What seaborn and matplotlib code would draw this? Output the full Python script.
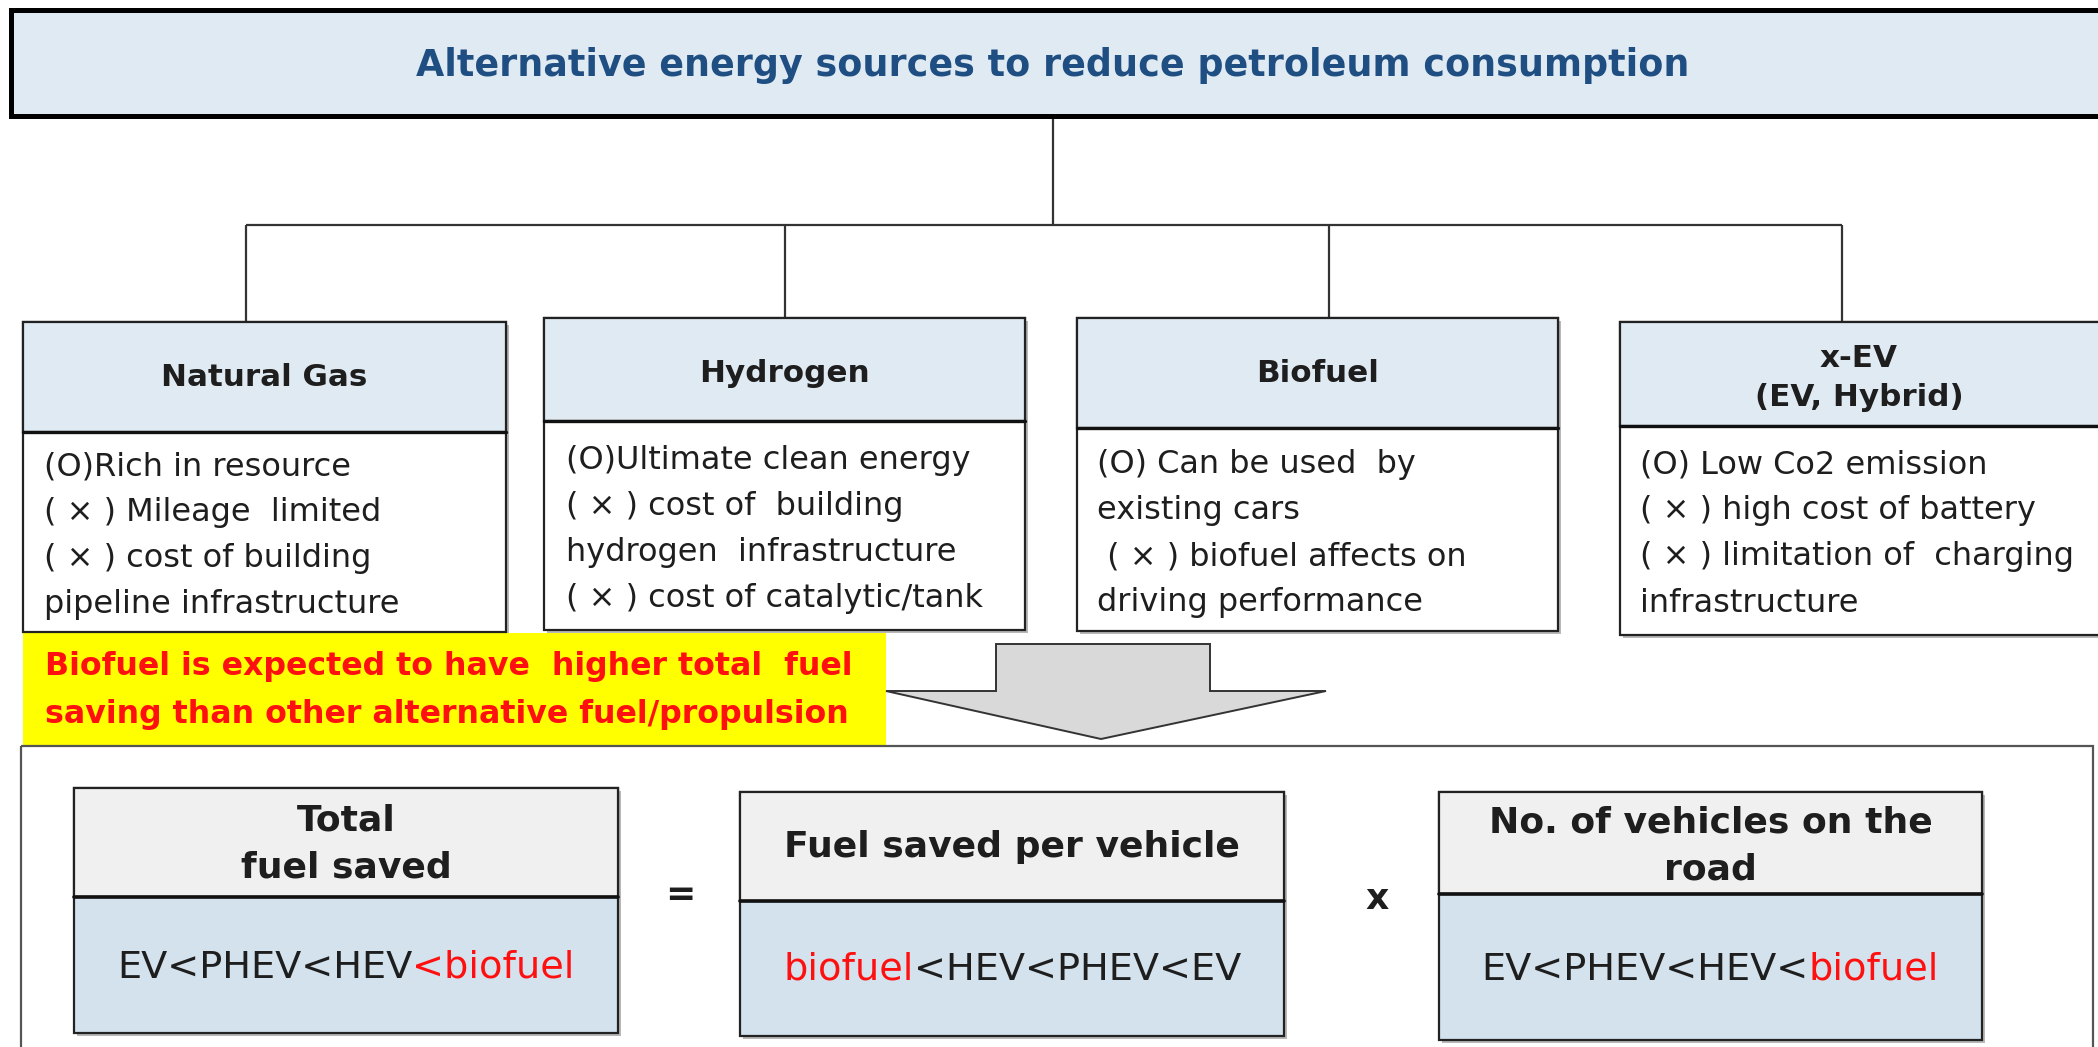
import matplotlib
matplotlib.use("Agg")
import matplotlib.pyplot as plt
import seaborn as sns
from matplotlib.patches import Rectangle, Polygon

sns.set_theme(style="white")
plt.rcParams['font.family'] = ['DejaVu Sans']

# ---------------- data (text content) ----------------
title = "Alternative energy sources to reduce petroleum consumption"
categories = ["Natural Gas", "Hydrogen", "Biofuel", "x-EV\n(EV, Hybrid)"]
natural_gas_notes = ["(O)Rich in resource", "( × ) Mileage  limited",
                     "( × ) cost of building", "pipeline infrastructure"]
hydrogen_notes = ["(O)Ultimate clean energy", "( × ) cost of  building",
                  "hydrogen  infrastructure", "( × ) cost of catalytic/tank"]
biofuel_notes = ["(O) Can be used  by", "existing cars",
                 " ( × ) biofuel affects on", "driving performance"]
xev_notes = ["(O) Low Co2 emission", "( × ) high cost of battery",
             "( × ) limitation of  charging", "infrastructure"]
conclusion_lines = ["Biofuel is expected to have  higher total  fuel",
                    "saving than other alternative fuel/propulsion"]
factor_titles = ["Total\nfuel saved", "Fuel saved per vehicle", "No. of vehicles on the\nroad"]
factor_rankings = [[("EV<PHEV<HEV", "dark"), ("<biofuel", "red")],
                   [("biofuel", "red"), ("<HEV<PHEV<EV", "dark")],
                   [("EV<PHEV<HEV<", "dark"), ("biofuel", "red")]]
operators = ["=", "x"]

# ---------------- styles ----------------
DARK = "#1e1e1e"
RED = "#ff1010"
run_colors = {"dark": DARK, "red": RED}
TITLE_BLUE = "#1f4e82"
HDR_BLUE = "#e0eaf2"
HDR_GRAY = "#f0f0f0"
BODY_BLUE = "#d3e2ec"
EDGE = "#222222"

W, H = 2098, 1047
fig = plt.figure(figsize=(W / 100, H / 100), dpi=100)
ax = fig.add_axes([0, 0, 1, 1])
ax.set_xlim(0, W)
ax.set_ylim(H, 0)
ax.axis("off")
renderer = fig.canvas.get_renderer()


def box(x0, y0, x1, y1, fc, lw=1.6, ec=EDGE, z=2, shadow=True):
    if shadow:
        ax.add_patch(Rectangle((x0 + 3, y0 + 3), x1 - x0, y1 - y0, fc="#b8b8b8",
                               ec="none", zorder=z - 0.5))
    ax.add_patch(Rectangle((x0, y0), x1 - x0, y1 - y0, fc=fc, ec=ec, lw=lw, zorder=z))


def draw_runs(xc, y, runs, **kw):
    texts, widths = [], []
    for s, c in runs:
        t = ax.text(0, y, s, color=run_colors[c], ha="left", va="center", zorder=6, **kw)
        widths.append(t.get_window_extent(renderer).width)
        texts.append(t)
    x = xc - sum(widths) / 2
    for t, w in zip(texts, widths):
        t.set_x(x)
        x += w


# ---------------- title box ----------------
box(11, 10, 2110, 116, HDR_BLUE, lw=3.6, ec="#000000", shadow=False)
ax.text(1053, 66, title, ha="center", va="center", color=TITLE_BLUE,
        fontsize=26.3, fontweight="bold", zorder=6)

# ---------------- connectors ----------------
lc = dict(color="#333333", lw=1.6, zorder=1, solid_capstyle="butt")
ax.plot([1053, 1053], [116, 225], **lc)
ax.plot([246, 1842], [225, 225], **lc)
drops = [(246, 322), (785, 318), (1329, 318), (1842, 322)]
for x, yb in drops:
    ax.plot([x, x], [225, yb], **lc)

# ---------------- category boxes ----------------
cat_geom = [(23, 506, 322, 432, 632), (544, 1025, 318, 421, 630),
            (1077, 1558, 318, 428, 631), (1620, 2110, 322, 426, 635)]
cat_title_y = [378, 373, 373, 378]
notes_all = [natural_gas_notes, hydrogen_notes, biofuel_notes, xev_notes]
note_x = [44, 566, 1097, 1640]
note_y0 = [467, 460, 465, 465]
for (x0, x1, yt, yh, yb), name, ty, notes, nx, ny in zip(
        cat_geom, categories, cat_title_y, notes_all, note_x, note_y0):
    box(x0, yt, x1, yb, "white")
    ax.add_patch(Rectangle((x0, yt), x1 - x0, yh - yt, fc=HDR_BLUE, ec=EDGE, lw=1.6, zorder=3))
    ax.plot([x0, x1], [yh, yh], color="#111111", lw=2.4, zorder=4)
    ax.text((x0 + x1) / 2 if x1 < W else 1859, ty, name, ha="center", va="center",
            fontsize=22.3, fontweight="bold", color=DARK, linespacing=1.4, zorder=6)
    for i, line in enumerate(notes):
        ax.text(nx, ny + i * 46, line, ha="left", va="center", fontsize=23,
                color=DARK, zorder=6)

# ---------------- lower frame ----------------
ax.add_patch(Rectangle((21, 746), 2072, 400, fc="none", ec="#555555", lw=1.6, zorder=2))

# conclusion banner
ax.add_patch(Rectangle((23, 633), 863, 113, fc="#ffff00", ec="none", zorder=1.5))
for i, line in enumerate(conclusion_lines):
    ax.text(45, 667 + i * 47, line, ha="left", va="center", color=RED,
            fontsize=22.8, fontweight="bold", zorder=6)

# arrow
arrow = [(996, 644), (1210, 644), (1210, 691), (1326, 691), (1101, 739),
         (886, 691), (996, 691)]
ax.add_patch(Polygon(arrow, closed=True, fc="#d9d9d9", ec="#333333", lw=1.4, zorder=3))

# ---------------- factor boxes ----------------
fac_geom = [(74, 618, 788, 897, 1033), (740, 1284, 792, 901, 1036),
            (1439, 1982, 792, 894, 1040)]
fac_title_y = [844, 847, 846]
fac_body_y = [968, 970, 970]
for (x0, x1, yt, yh, yb), name, ty, runs, by in zip(
        fac_geom, factor_titles, fac_title_y, factor_rankings, fac_body_y):
    box(x0, yt, x1, yb, BODY_BLUE)
    ax.add_patch(Rectangle((x0, yt), x1 - x0, yh - yt, fc=HDR_GRAY, ec=EDGE, lw=1.6, zorder=3))
    ax.plot([x0, x1], [yh, yh], color="#111111", lw=2.6, zorder=4)
    ax.text((x0 + x1) / 2, ty, name, ha="center", va="center", fontsize=26,
            fontweight="bold", color=DARK, linespacing=1.5, zorder=6)
    draw_runs((x0 + x1) / 2, by, runs, fontsize=27.5)

op_pos = [(680, 895), (1377, 899)]
for (x, y), op in zip(op_pos, operators):
    ax.text(x, y, op, ha="center", va="center", fontsize=26, fontweight="bold",
            color=DARK, zorder=6)

fig.savefig("out.png", dpi=100)
